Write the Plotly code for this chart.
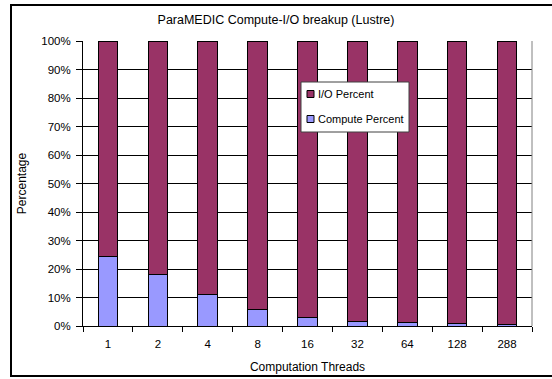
import plotly.graph_objects as go

# Computation thread counts (categories) and the share of run time per phase
threads = ["1", "2", "4", "8", "16", "32", "64", "128", "288"]
compute_pct = [24.3, 18.2, 11.2, 5.9, 3.1, 1.6, 1.2, 0.8, 0.4]
io_pct = [100 - c for c in compute_pct]

series_names = ["Compute Percent", "I/O Percent"]
series_colors = ["#9999FF", "#993366"]

FONT = "Liberation Sans, Arial, sans-serif"

fig = go.Figure()
for name, color, values in zip(series_names, series_colors, [compute_pct, io_pct]):
    fig.add_trace(go.Bar(
        x=threads, y=values, name=name, showlegend=False,
        marker=dict(color=color, line=dict(color="#000000", width=1)),
    ))

W, H = 552, 379
ml, mr, mt, mb = 83, 20, 41, 53
pw, ph = W - ml - mr, H - mt - mb

def px_to_paper_x(px):
    return (px - ml) / pw

def px_to_paper_y(py):
    return (H - mb - py) / ph

# Boxed key inside the plot area, I/O listed first
shapes = [
    dict(type="line", xref="paper", yref="paper", x0=1, x1=1, y0=0, y1=1,
         line=dict(color="#808080", width=1)),
    dict(type="rect", xref="paper", yref="paper",
         x0=px_to_paper_x(11), x1=px_to_paper_x(W + 5),
         y0=px_to_paper_y(376), y1=px_to_paper_y(5),
         line=dict(color="#000000", width=2), layer="below"),
    dict(type="rect", xref="paper", yref="paper",
         x0=px_to_paper_x(301), x1=px_to_paper_x(409),
         y0=px_to_paper_y(132), y1=px_to_paper_y(82),
         line=dict(color="#404040", width=1), fillcolor="white", layer="above"),
]
annotations = []
key_rows = [(series_names[1], series_colors[1], 94),
            (series_names[0], series_colors[0], 119)]
for name, color, cy in key_rows:
    shapes.append(dict(type="rect", xref="paper", yref="paper",
                       x0=px_to_paper_x(307), x1=px_to_paper_x(314),
                       y0=px_to_paper_y(cy + 3.5), y1=px_to_paper_y(cy - 3.5),
                       line=dict(color="#000000", width=1), fillcolor=color,
                       layer="above"))
    annotations.append(dict(text=name, xref="paper", yref="paper",
                            x=px_to_paper_x(316), y=px_to_paper_y(cy),
                            xanchor="left", yanchor="middle", showarrow=False,
                            font=dict(family=FONT, size=11, color="#000000")))

fig.update_layout(
    width=W, height=H,
    margin=dict(l=ml, r=mr, t=mt, b=mb, pad=0, autoexpand=False),
    paper_bgcolor="white", plot_bgcolor="white",
    barmode="stack", bargap=0.61,
    font=dict(family=FONT, size=11, color="#000000"),
    title=dict(text="ParaMEDIC Compute-I/O breakup (Lustre)",
               x=0.5, xanchor="center", y=1 - 20 / H, yanchor="middle",
               font=dict(family=FONT, size=12.5, color="#000000")),
    xaxis=dict(
        type="category", tickson="boundaries", automargin=False,
        ticks="outside", ticklen=5, tickcolor="#000000",
        showline=True, linecolor="#000000", linewidth=1,
        showgrid=False, mirror=False, ticklabelstandoff=7,
        title=dict(text="Computation Threads", standoff=13,
                   font=dict(family=FONT, size=12)),
        tickfont=dict(family=FONT, size=11.5),
    ),
    yaxis=dict(
        range=[0, 100], dtick=10, ticksuffix="%", automargin=False,
        ticks="outside", ticklen=6, tickcolor="#000000",
        showline=True, linecolor="#000000", linewidth=1,
        showgrid=True, gridcolor="#000000", gridwidth=1,
        zeroline=False, ticklabelstandoff=3,
        title=dict(text="Percentage", standoff=12,
                   font=dict(family=FONT, size=12)),
        tickfont=dict(family=FONT, size=11.5),
    ),
    shapes=shapes,
    annotations=annotations,
)

fig.write_html("out.html")
